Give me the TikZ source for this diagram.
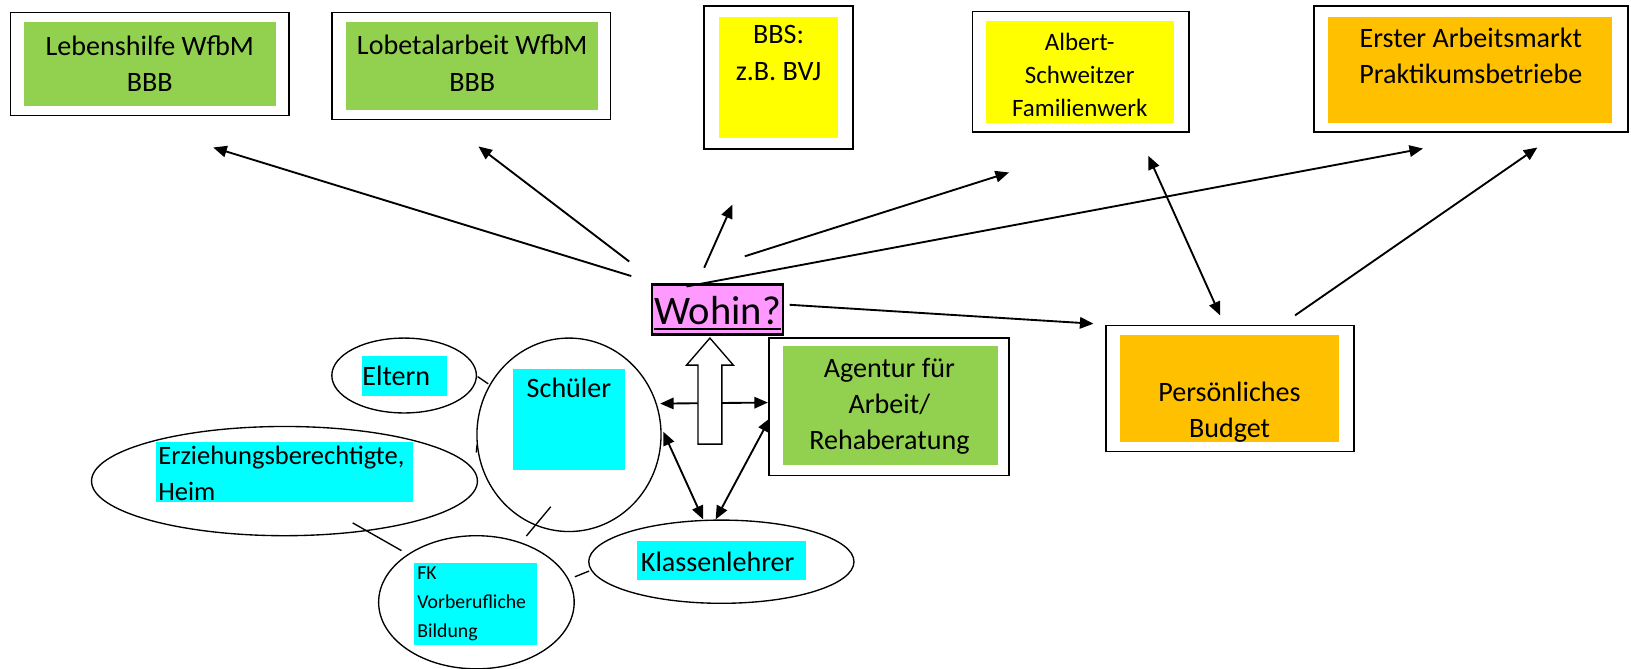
\documentclass[tikz,border=0pt]{standalone}
\usepackage{fontspec}
\setmainfont{Carlito}
\usetikzlibrary{calc,shapes.geometric,arrows.meta,positioning}
\definecolor{myGreenCol}{HTML}{92D050}
\definecolor{myYellowCol}{HTML}{FFFF00}
\definecolor{myOrangeCol}{HTML}{FFC000}
\definecolor{myCyanCol}{HTML}{00FFFF}
\definecolor{myPinkCol}{HTML}{FF99FF}
\tikzset{
myOuter/.style={
	rectangle, draw=black, line width=1.6pt, fill=white,
	inner sep=0pt
}
, myFill/.style={
	rectangle, fill=#1, inner sep=0pt
}
, myEllipse/.style={
	ellipse, draw=black, line width=1.3pt,
	inner sep=0pt
}
, myText/.style={
	align=center, inner sep=0pt, text=black,
	font=\fontsize{27}{35}\selectfont
}
, mySmallText/.style={
	myText, font=\fontsize{24}{32}\selectfont
}
, myTinyText/.style={
	myText, align=left, font=\fontsize{19}{28}\selectfont
}
, myWohin/.style={
	rectangle, draw=black, line width=2.2pt, fill=myPinkCol,
	inner sep=0pt
}
% links
, myArrow/.style={-{Triangle[length=13pt,width=11pt]}, line width=1.8pt}
, myBoth/.style={{Triangle[length=13pt,width=11pt]}-{Triangle[length=13pt,width=11pt]}, line width=1.8pt}
, myLink/.style={line width=1.3pt}
}

\begin{document}
\begin{tikzpicture}[x=1pt,y=-1pt]
	\useasboundingbox (0,0) rectangle (1568,643);
	% top boxes
	\node[myOuter, minimum width=268pt, minimum height=99pt] (Leben) at (144,61.5) {};
	\node[myFill=myGreenCol, minimum width=242pt, minimum height=81pt] (LebenFill) at (144,61.5) {};
	\node[myText] (LebenText) at (144,61) {Lebenshilfe WfbM\\BBB};

	\node[myOuter, minimum width=268pt, minimum height=103pt] (Lobetal) at (453,63.5) {};
	\node[myFill=myGreenCol, minimum width=242pt, minimum height=85pt] (LobetalFill) at (454,63.5) {};
	\node[myText] (LobetalText) at (454,60.5) {Lobetalarbeit WfbM\\BBB};

	\node[myOuter, minimum width=143pt, minimum height=137pt] (BBS) at (748.5,74.5) {};
	\node[myFill=myYellowCol, minimum width=115pt, minimum height=117pt] (BBSFill) at (748.5,74.5) {};
	\node[myText] (BBSText) at (748.5,51) {BBS:\\z.B. BVJ};

	\node[myOuter, minimum width=208pt, minimum height=116pt] (Albert) at (1039,69) {};
	\node[myFill=myYellowCol, minimum width=181pt, minimum height=98pt] (AlbertFill) at (1038.5,69) {};
	\node[mySmallText] (AlbertText) at (1038,72) {Albert-\\Schweitzer\\Familienwerk};

	\node[myOuter, minimum width=302pt, minimum height=121pt] (Erster) at (1414,66.5) {};
	\node[myFill=myOrangeCol, minimum width=273pt, minimum height=102pt] (ErsterFill) at (1413.5,67) {};
	\node[myText] (ErsterText) at (1414,53.5) {Erster Arbeitsmarkt\\Praktikumsbetriebe};

	% middle boxes
	\node[myWohin, minimum width=126pt, minimum height=48pt] (Wohin) at (690,297.5) {};
	\node[myText, font=\fontsize{39}{40}\selectfont] (WohinText) at (690,299) {Wohin?};
	\draw[line width=2pt] ($(Wohin.south west)+(3,-6)$) -- ($(Wohin.south east)+(-3,-6)$);

	\node[myOuter, minimum width=231pt, minimum height=132pt] (Agentur) at (854.5,391) {};
	\node[myFill=myGreenCol, minimum width=206pt, minimum height=114pt] (AgenturFill) at (856,390) {};
	\node[myText] (AgenturText) at (855,390.5) {Agentur f\"ur\\Arbeit/\\Rehaberatung};

	\node[myOuter, minimum width=239pt, minimum height=121pt] (Budget) at (1182.5,373.5) {};
	\node[myFill=myOrangeCol, minimum width=210pt, minimum height=103pt] (BudgetFill) at (1182,373.5) {};
	\node[myText] (BudgetText) at (1182,396) {Pers\"onliches\\Budget};

	% ellipses
	\node[myEllipse, minimum width=177pt, minimum height=186pt] (Schueler) at (547,418) {};
	\node[myFill=myCyanCol, minimum width=108pt, minimum height=97pt] (SchuelerFill) at (547,403.5) {};
	\node[myText] (SchuelerText) at (547,373) {Sch\"uler};

	\node[myEllipse, minimum width=139pt, minimum height=72pt] (Eltern) at (388.5,361) {};
	\node[myFill=myCyanCol, minimum width=82pt, minimum height=39pt] (ElternFill) at (389,361.5) {};
	\node[myText] (ElternText) at (381,361) {Eltern};

	\node[myEllipse, minimum width=371pt, minimum height=105pt] (Erz) at (273.5,462.5) {};
	\node[myFill=myCyanCol, minimum width=247pt, minimum height=58pt] (ErzFill) at (273.5,454) {};
	\node[myText, align=left, anchor=west, font=\fontsize{25.5}{34}\selectfont] (ErzText) at (152,455) {Erziehungsberechtigte,\\Heim};

	\node[myEllipse, minimum width=188pt, minimum height=128pt] (FK) at (458,579) {};
	\node[myFill=myCyanCol, minimum width=118pt, minimum height=79pt] (FKFill) at (457,580.5) {};
	\node[myTinyText, anchor=west] (FKText) at (401,580.5) {FK\\Vorberufliche\\Bildung};

	\node[myEllipse, minimum width=255pt, minimum height=80pt] (Klassen) at (693.5,540) {};
	\node[myFill=myCyanCol, minimum width=163pt, minimum height=38pt] (KlassenFill) at (693.5,539) {};
	\node[myText] (KlassenText) at (690,540) {Klassenlehrer};

	% arrows from Wohin
	\draw[myArrow] ($(Wohin.north west)+(-19,-7)$) to ($(Leben.south)+(61,30)$);
	\draw[myArrow] ($(Wohin.north west)+(-21,-21)$) to ($(Lobetal.south)+(7,25)$);
	\draw[myArrow] ($(Wohin.north)+(-13,-15)$) to ($(BBS.south)+(-44.5,53)$);
	\draw[myArrow] ($(Wohin.north)+(26,-26)$) to ($(Albert.south)+(-69,38)$);
	\draw[myArrow] ($(Wohin.north)+(-30,3)$) to ($(Erster.south)+(-46,15)$);
	\draw[myArrow] ($(Wohin.east)+(5,-4.5)$) to ($(Budget.north west)+(-11,-1)$);
	% budget links
	\draw[myBoth] ($(Albert.south)+(65,22)$) to ($(Budget.north)+(-9.5,-9)$);
	\draw[myArrow] ($(Budget.north)+(62.5,-9)$) to ($(Erster.south)+(64,14)$);
	% Schueler links
	\draw[myBoth] ($(Schueler.east)+(-1.5,-30)$) to ($(Agentur.west)+(0,-4)$);
	\draw[myBoth] ($(Schueler.east)+(1.5,-3)$) to ($(Klassen.north)+(-17.5,0)$);
	\draw[myBoth] ($(Agentur.west)+(2,11)$) to ($(Klassen.north)+(-5.5,0)$);

	% hollow arrow
	\draw[line width=1.3pt, fill=white] (671,427) -- (671,351) -- (660,351) -- (682.5,325)
		-- (705,351) -- (694,351) -- (694,427) -- cycle;

	% plain links
	\draw[myLink] ($(Eltern.east)+(0.5,1)$) -- ($(Schueler.west)+(11.5,-49)$);
	\draw[myLink] ($(Erz.east)+(-1,-35)$) -- ($(Schueler.west)+(0,17)$);
	\draw[myLink] ($(Erz.south)+(65.5,-13)$) -- ($(FK.north)+(-72,15)$);
	\draw[myLink] ($(Schueler.south)+(-17.5,-24.5)$) -- ($(FK.north)+(48,1)$);
	\draw[myLink] ($(FK.east)+(0,-24.5)$) -- ($(Klassen.west)+(1,9)$);
\end{tikzpicture}
\end{document}
